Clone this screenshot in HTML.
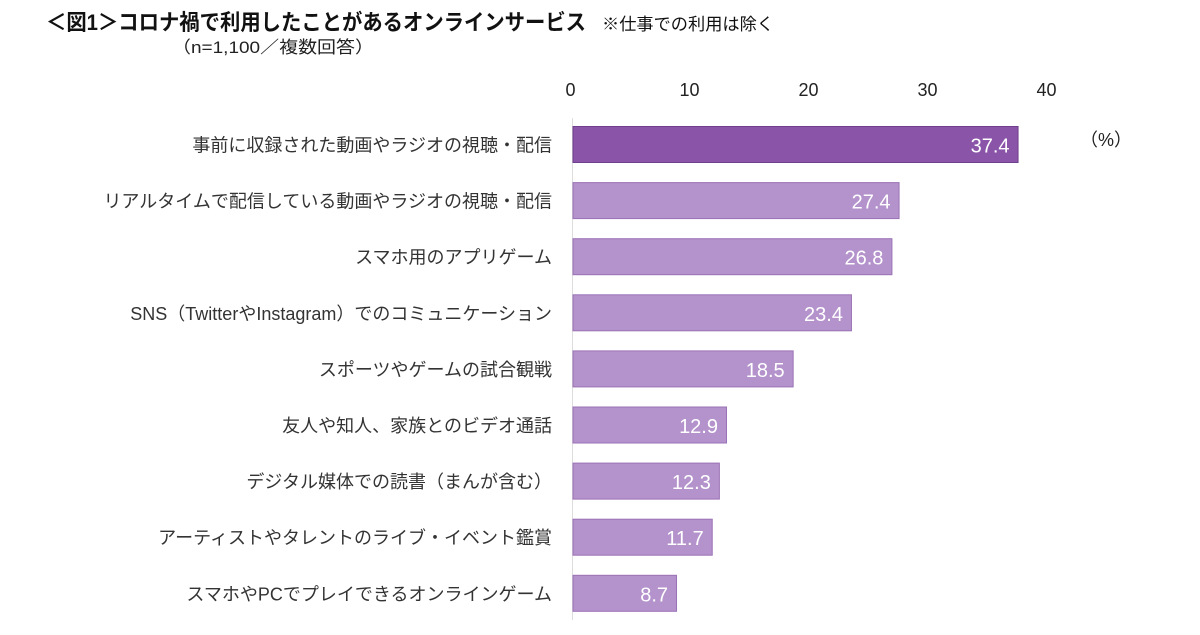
<!DOCTYPE html>
<html><head><meta charset="utf-8"><style>
body{margin:0;background:#fff;width:1200px;height:630px;overflow:hidden;font-family:"Liberation Sans","Noto Sans CJK JP",sans-serif}
</style></head><body>
<svg width="1200" height="630" xmlns="http://www.w3.org/2000/svg" font-family="Liberation Sans, Noto Sans CJK JP, sans-serif">
<text x="46" y="30" font-size="22" font-weight="bold" fill="#111" textLength="540" lengthAdjust="spacingAndGlyphs">＜図1＞コロナ禍で利用したことがあるオンラインサービス</text>
<text x="602" y="30" font-size="17" fill="#111" textLength="172" lengthAdjust="spacingAndGlyphs">※仕事での利用は除く</text>
<text x="172" y="53" font-size="17" fill="#222" textLength="202" lengthAdjust="spacingAndGlyphs">（n=1,100／複数回答）</text>
<text x="1080" y="146" font-size="18" fill="#222">（%）</text>
<line x1="572.5" y1="118" x2="572.5" y2="620" stroke="#ddd" stroke-width="1"/>
<g id="ticks"></g><g id="bars"></g>
</svg>
<script>
const categories=["事前に収録された動画やラジオの視聴・配信","リアルタイムで配信している動画やラジオの視聴・配信","スマホ用のアプリゲーム","SNS（TwitterやInstagram）でのコミュニケーション","スポーツやゲームの試合観戦","友人や知人、家族とのビデオ通話","デジタル媒体での読書（まんが含む）","アーティストやタレントのライブ・イベント鑑賞","スマホやPCでプレイできるオンラインゲーム"];
const values=[37.4,27.4,26.8,23.4,18.5,12.9,12.3,11.7,8.7];
const ticks=[0,10,20,30,40];
const NS="http://www.w3.org/2000/svg";
const x0=572.5,scale=11.9;
const xs=v=>x0+v*scale;
const yc=i=>144.5+i*56.1;
const tg=document.getElementById('ticks'),bg=document.getElementById('bars');
ticks.forEach(t=>{const e=document.createElementNS(NS,'text');
e.setAttribute('x',xs(t)-2);e.setAttribute('y',96);e.setAttribute('font-size',18);e.setAttribute('fill','#222');e.setAttribute('text-anchor','middle');e.textContent=t;


tg.appendChild(e);});
values.forEach((v,i)=>{
const r=document.createElementNS(NS,'rect');
r.setAttribute('x',x0+0.5);r.setAttribute('y',yc(i)-18);r.setAttribute('width',xs(v)-x0);r.setAttribute('height',36);
r.setAttribute('fill',i==0?'#8a55a8':'#b492cb');r.setAttribute('stroke',i==0?'#6e3f8c':'#9a72b5');r.setAttribute('stroke-width',1);


bg.appendChild(r);
const l=document.createElementNS(NS,'text');
l.setAttribute('x',xs(v)-8);l.setAttribute('y',yc(i)+8);l.setAttribute('font-size',20);l.setAttribute('fill','#fff');l.setAttribute('text-anchor','end');l.textContent=v.toFixed(1);


bg.appendChild(l);
const c=document.createElementNS(NS,'text');
c.setAttribute('x',552);c.setAttribute('y',yc(i)+7);c.setAttribute('font-size',18);c.setAttribute('fill','#333');c.setAttribute('text-anchor','end');c.textContent=categories[i];


bg.appendChild(c);
});
</script>
</body></html>
